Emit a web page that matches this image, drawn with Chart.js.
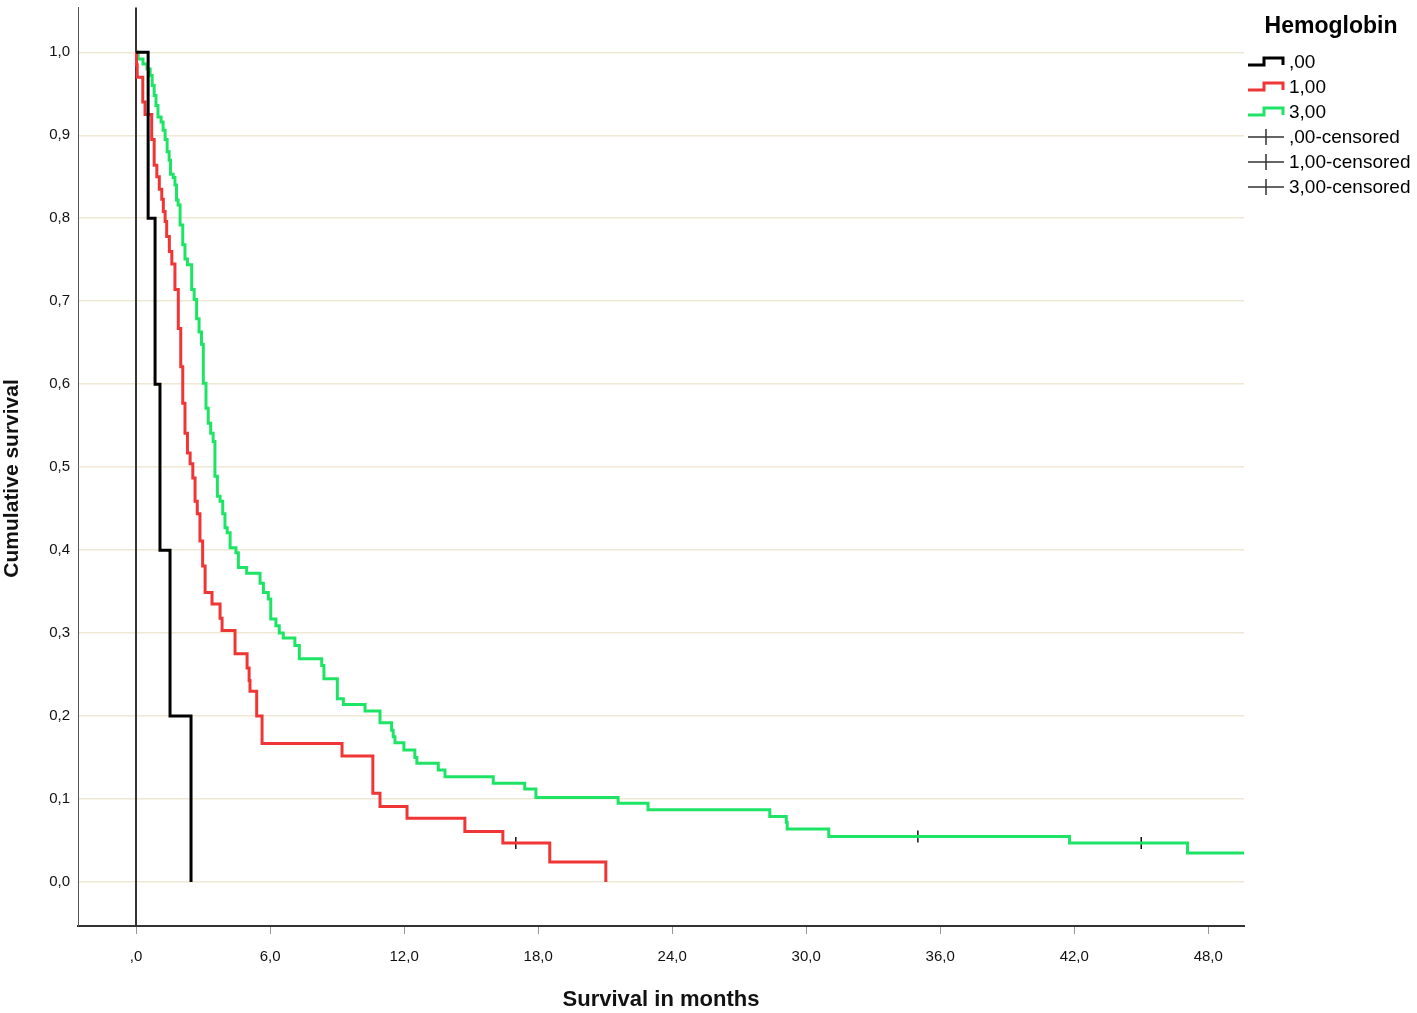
<!DOCTYPE html>
<html>
<head>
<meta charset="utf-8">
<title>Cumulative survival by Hemoglobin</title>
<script src="https://cdn.jsdelivr.net/npm/chart.js@4.4.1/dist/chart.umd.min.js"></script>
<style>
  html, body { margin: 0; padding: 0; background: #fff; }
  #wrap { width: 1417px; height: 1013px; }
</style>
</head>
<body>
<div id="wrap"><canvas id="kmChart" width="1417" height="1013"></canvas></div>
<script>
// Kaplan-Meier curves (time in months, cumulative survival)
const hb0_time = [0, 0.54, 0.85, 1.07, 1.52, 2.46];
const hb0_surv = [1.0, 0.8, 0.6, 0.4, 0.2, 0.0];

const hb1_time = [0, 0.02, 0.05, 0.30, 0.40, 0.70, 0.81, 0.93, 1.04, 1.15,
    1.22, 1.30, 1.37, 1.49, 1.60, 1.74, 1.89, 2.00, 2.09, 2.19,
    2.30, 2.42, 2.54, 2.64, 2.74, 2.86, 2.98, 3.09, 3.40, 3.76,
    3.85, 4.43, 4.97, 5.06, 5.10, 5.40, 5.64, 9.22, 10.60, 10.92,
    12.13, 14.72, 16.42, 18.52, 21.03];
const hb1_surv = [1.0, 0.985, 0.970, 0.940, 0.925, 0.895, 0.864, 0.850, 0.835, 0.823,
    0.808, 0.796, 0.778, 0.760, 0.745, 0.714, 0.667, 0.621, 0.577, 0.541,
    0.517, 0.504, 0.487, 0.459, 0.444, 0.411, 0.381, 0.349, 0.335, 0.318,
    0.303, 0.275, 0.258, 0.243, 0.230, 0.200, 0.167, 0.152, 0.107, 0.091,
    0.077, 0.061, 0.047, 0.024, 0.0];

const hb3_time = [0, 0.09, 0.31, 0.49, 0.63, 0.72, 0.81, 0.89, 0.98, 1.12,
    1.21, 1.30, 1.39, 1.48, 1.54, 1.66, 1.74, 1.81, 1.88, 1.97,
    2.09, 2.19, 2.30, 2.49, 2.60, 2.71, 2.82, 2.93, 3.01, 3.13,
    3.23, 3.34, 3.45, 3.53, 3.64, 3.76, 3.88, 3.98, 4.08, 4.21,
    4.47, 4.58, 4.95, 5.55, 5.70, 5.92, 6.03, 6.26, 6.41, 6.59,
    7.11, 7.31, 8.31, 8.41, 9.01, 9.28, 10.25, 10.92, 11.44, 11.51,
    11.59, 11.99, 12.48, 12.57, 13.53, 13.83, 15.99, 17.40, 17.90, 21.58,
    22.92, 28.37, 29.11, 29.15, 31.01, 41.79, 47.07, 49.6];
const hb3_surv = [1.0, 0.992, 0.986, 0.980, 0.972, 0.960, 0.948, 0.936, 0.922, 0.916,
    0.906, 0.895, 0.880, 0.870, 0.853, 0.849, 0.840, 0.822, 0.816, 0.792,
    0.768, 0.751, 0.744, 0.714, 0.702, 0.679, 0.663, 0.648, 0.601, 0.571,
    0.553, 0.541, 0.531, 0.489, 0.465, 0.459, 0.444, 0.427, 0.421, 0.403,
    0.397, 0.379, 0.372, 0.360, 0.349, 0.341, 0.317, 0.309, 0.300, 0.294,
    0.285, 0.269, 0.261, 0.245, 0.221, 0.214, 0.206, 0.192, 0.183, 0.175,
    0.168, 0.159, 0.150, 0.143, 0.135, 0.127, 0.119, 0.112, 0.102, 0.095,
    0.087, 0.079, 0.072, 0.064, 0.055, 0.047, 0.035, 0.035];

// censored observations
const hb1_cens_time = [17.0];
const hb1_cens_surv = [0.047];
const hb3_cens_time = [35.0, 45.0];
const hb3_cens_surv = [0.055, 0.047];

const x_ticks = [0, 6, 12, 18, 24, 30, 36, 42, 48];
const y_ticks = [0, 0.1, 0.2, 0.3, 0.4, 0.5, 0.6, 0.7, 0.8, 0.9, 1.0];

const legend_title = 'Hemoglobin';
const legend_labels = [',00', '1,00', '3,00', ',00-censored', '1,00-censored', '3,00-censored'];

const COL_BLACK = '#000000';
const COL_RED = '#ef3535';
const COL_GREEN = '#1ee466';
const FONT = '"Liberation Sans", Arial, sans-serif';

function toPoints(xs, ys) {
    return xs.map(function(t, i) { return { x: t, y: ys[i] }; });
}

// vertical reference line at time 0
const zeroLine = {
    id: 'zeroLine',
    beforeDatasetsDraw(chart) {
        const ctx = chart.ctx;
        const xs = chart.scales.x;
        const area = chart.chartArea;
        const px = Math.round(xs.getPixelForValue(0));
        ctx.save();
        ctx.strokeStyle = '#333333';
        ctx.lineWidth = 2;
        ctx.beginPath();
        ctx.moveTo(px, area.top);
        ctx.lineTo(px, area.bottom);
        ctx.stroke();
        ctx.restore();
    }
};

// SPSS-style legend at the right
const spssLegend = {
    id: 'spssLegend',
    afterDraw(chart) {
        const ctx = chart.ctx;
        const x0 = 1248;
        ctx.save();
        ctx.fillStyle = '#000';
        ctx.font = 'bold 23px ' + FONT;
        ctx.textAlign = 'center';
        ctx.textBaseline = 'middle';
        ctx.fillText(legend_title, 1331, 27);

        ctx.font = '19px ' + FONT;
        ctx.textAlign = 'left';
        const cols = [COL_BLACK, COL_RED, COL_GREEN];
        legend_labels.forEach(function(lab, i) {
            const yc = 62 + i * 25;
            if (i < 3) {
                ctx.strokeStyle = cols[i];
                ctx.lineWidth = 3;
                ctx.beginPath();
                ctx.moveTo(x0, yc + 3);
                ctx.lineTo(x0 + 16, yc + 3);
                ctx.lineTo(x0 + 16, yc - 4);
                ctx.lineTo(x0 + 35, yc - 4);
                ctx.lineTo(x0 + 35, yc + 3);
                ctx.stroke();
            } else {
                ctx.strokeStyle = '#333';
                ctx.lineWidth = 1.5;
                ctx.beginPath();
                ctx.moveTo(x0, yc);
                ctx.lineTo(x0 + 36, yc);
                ctx.moveTo(x0 + 18, yc - 8);
                ctx.lineTo(x0 + 18, yc + 8);
                ctx.stroke();
            }
            ctx.fillStyle = '#000';
            ctx.fillText(lab, x0 + 41, yc + 1);
        });
        ctx.restore();
    }
};

const canvas = document.getElementById('kmChart');
const ctx = canvas.getContext('2d');

const config = {
    type: 'line',
    data: {
        datasets: [{
            label: ',00',
            data: toPoints(hb0_time, hb0_surv),
            borderColor: COL_BLACK,
            borderWidth: 3,
            stepped: 'before',
            pointRadius: 0,
            fill: false
        }, {
            label: '1,00',
            data: toPoints(hb1_time, hb1_surv),
            borderColor: COL_RED,
            borderWidth: 3,
            stepped: 'before',
            pointRadius: 0,
            fill: false
        }, {
            label: '3,00',
            data: toPoints(hb3_time, hb3_surv),
            borderColor: COL_GREEN,
            borderWidth: 3,
            stepped: 'before',
            pointRadius: 0,
            fill: false
        }, {
            label: '1,00-censored',
            data: toPoints(hb1_cens_time, hb1_cens_surv),
            showLine: false,
            pointStyle: 'cross',
            pointRadius: 6,
            pointBorderWidth: 1.5,
            pointBorderColor: '#111',
            borderColor: '#111'
        }, {
            label: '3,00-censored',
            data: toPoints(hb3_cens_time, hb3_cens_surv),
            showLine: false,
            pointStyle: 'cross',
            pointRadius: 6,
            pointBorderWidth: 1.5,
            pointBorderColor: '#111',
            borderColor: '#111'
        }]
    },
    options: {
        responsive: false,
        animation: false,
        devicePixelRatio: 1,
        layout: { padding: { top: 5, right: 173, left: 0, bottom: 0 } },
        plugins: {
            legend: { display: false },
            tooltip: { enabled: false }
        },
        scales: {
            x: {
                type: 'linear',
                min: -2.6,
                max: 49.6,
                afterBuildTicks: function(scale) {
                    scale.ticks = x_ticks.map(function(v) { return { value: v }; });
                },
                afterFit: function(scale) {
                    scale.height = 87;
                    scale.paddingLeft = 0;
                    scale.paddingRight = 0;
                },
                ticks: {
                    autoSkip: false,
                    maxRotation: 0,
                    padding: 14,
                    color: '#111',
                    font: { family: FONT, size: 15 },
                    callback: function(v) {
                        return v === 0 ? ',0' : v.toFixed(1).replace('.', ',');
                    }
                },
                grid: {
                    drawOnChartArea: false,
                    drawTicks: true,
                    tickLength: 8,
                    tickColor: '#999'
                },
                border: { display: true, color: '#333', width: 2 },
                title: {
                    display: true,
                    text: 'Survival in months',
                    color: '#111',
                    font: { family: FONT, size: 22, weight: 'bold' },
                    padding: { top: 0, bottom: 0 }
                }
            },
            y: {
                type: 'linear',
                min: -0.053,
                max: 1.054,
                afterBuildTicks: function(scale) {
                    scale.ticks = y_ticks.map(function(v) { return { value: v }; });
                },
                afterFit: function(scale) {
                    scale.width = 78;
                    scale.paddingTop = 0;
                    scale.paddingBottom = 0;
                },
                ticks: {
                    padding: 8,
                    color: '#111',
                    font: { family: FONT, size: 15 },
                    callback: function(v) { return v.toFixed(1).replace('.', ','); }
                },
                grid: {
                    drawTicks: false,
                    color: '#efe8d4',
                    lineWidth: 1.5
                },
                border: { display: true, color: '#555', width: 1 },
                title: {
                    display: true,
                    text: 'Cumulative survival    ',
                    color: '#111',
                    font: { family: FONT, size: 21, weight: 'bold' },
                    padding: { top: 0, bottom: 0 }
                }
            }
        }
    },
    plugins: [zeroLine, spssLegend]
};

const myChart = new Chart(ctx, config);
</script>
</body>
</html>
